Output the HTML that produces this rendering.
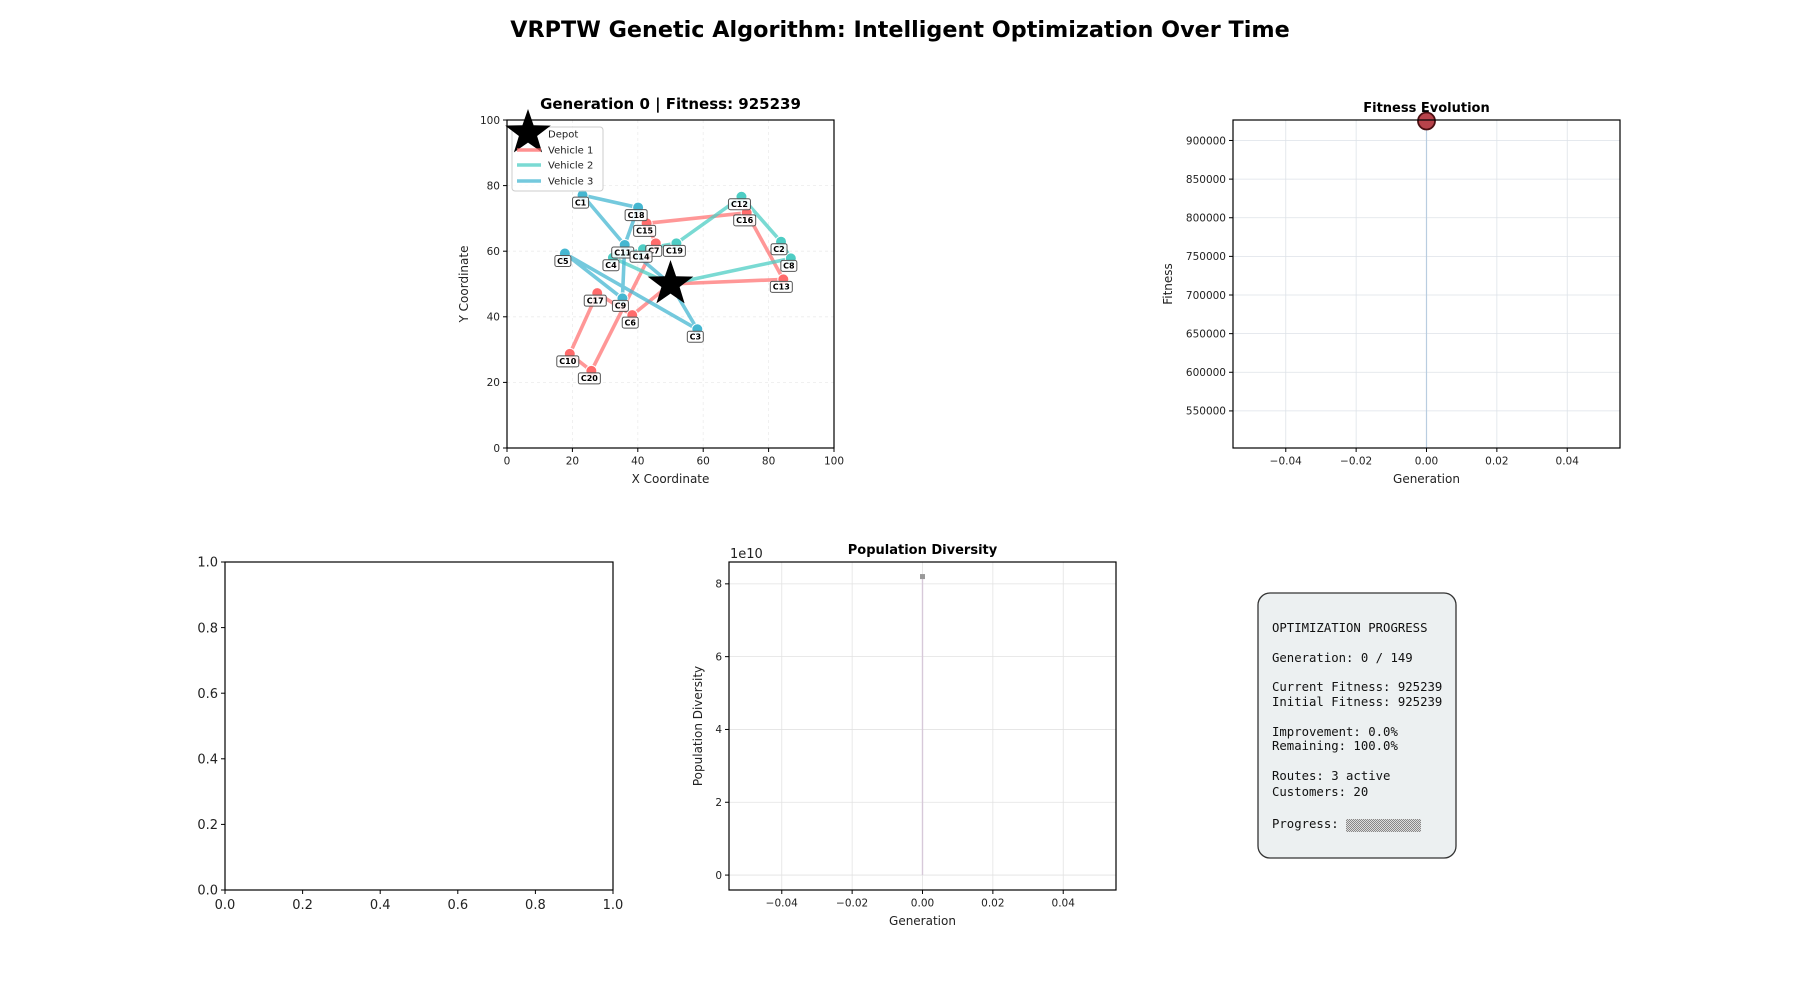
<!DOCTYPE html>
<html><head><meta charset="utf-8">
<style>
html,body{margin:0;padding:0;background:#fff;}
svg{display:block;font-family:"DejaVu Sans","Liberation Sans",sans-serif;}
</style></head>
<body>
<svg id="fig" width="1800" height="1000" viewBox="0 0 1800 1000" xmlns="http://www.w3.org/2000/svg">
<text x="900" y="37" text-anchor="middle" font-size="22.3" font-weight="bold">VRPTW Genetic Algorithm: Intelligent Optimization Over Time</text>
<g id="routeMap"></g>
<g id="fitness"></g>
<g id="empty"></g>
<g id="diversity"></g>
<g>
<rect x="1258" y="593" width="198" height="265" rx="12" fill="#ecf0f1" stroke="#333" stroke-width="1.3"/>
<g font-family="'DejaVu Sans Mono','Liberation Mono',monospace" font-size="12.3" fill="#111">
<text x="1272" y="632">OPTIMIZATION PROGRESS</text>
<text x="1272" y="662">Generation: 0 / 149</text>
<text x="1272" y="691">Current Fitness: 925239</text>
<text x="1272" y="706">Initial Fitness: 925239</text>
<text x="1272" y="736">Improvement: 0.0%</text>
<text x="1272" y="750">Remaining: 100.0%</text>
<text x="1272" y="780">Routes: 3 active</text>
<text x="1272" y="796">Customers: 20</text>
<text x="1272" y="828">Progress: </text>
</g>
<defs><pattern id="dots" width="2" height="2" patternUnits="userSpaceOnUse"><rect width="2" height="2" fill="#ddd"/><rect width="1" height="1" fill="#888"/><rect x="1" y="1" width="1" height="1" fill="#888"/></pattern></defs>
<rect x="1346" y="819" width="75" height="13" fill="url(#dots)"/>
</g>
</svg>
<script>
// ---------- Route map data ----------
const customerNames = ["C1","C2","C3","C4","C5","C6","C7","C8","C9","C10","C11","C12","C13","C14","C15","C16","C17","C18","C19","C20"];
const customerX = [23.1,83.8,58.2,32.4,17.7,38.3,45.5,86.8,35.3,19.2,36.0,71.7,84.5,41.6,42.7,73.3,27.6,40.1,51.8,25.8];
const customerY = [77.1,62.9,36.2,58.0,59.3,40.5,62.4,57.8,45.6,28.7,61.9,76.6,51.4,60.6,68.5,71.7,47.2,73.3,62.4,23.5];
const customerVehicle = [3,2,3,2,3,1,1,2,3,1,3,2,1,2,1,1,1,3,2,1];
const depotXY = [50,50];
const route1 = ["D","C13","C16","C15","C7","C20","C10","C17","C6","D"];
const route2 = ["D","C8","C2","C12","C19","C14","C4","D"];
const route3 = ["D","C3","C5","C9","C11","C1","C18","C11","D"];
const vehicleColors = ["#FF6B6B","#4ECDC4","#45B7D1"];
const mapTicks = [0,20,40,60,80,100];
// ---------- Fitness data ----------
const fitGen = [0];
const fitVal = [925239];
const fitTicks = [550000,600000,650000,700000,750000,800000,850000,900000];
const genTicks = [-0.04,-0.02,0.00,0.02,0.04];
const genTickLabels = ["\u22120.04","\u22120.02","0.00","0.02","0.04"];
// ---------- Diversity data ----------
const divGen = [0];
const divVal = [8.2]; // x1e10
const divTicks = [0,2,4,6,8];
// ---------- Empty axes ----------
const unitTicks = [0,0.2,0.4,0.6,0.8,1.0];
const unitTickLabels = ["0.0","0.2","0.4","0.6","0.8","1.0"];

const NS="http://www.w3.org/2000/svg";
function mk(parent,tag,attrs,text){const e=document.createElementNS(NS,tag);for(const k in attrs)e.setAttribute(k,attrs[k]);if(text!==undefined)e.textContent=text;parent.appendChild(e);return e;}
function lin(d0,d1,r0,r1){return v=>r0+(v-d0)/(d1-d0)*(r1-r0);}

function axesFrame(g,L,T,R,B,xs,ys,xt,xl,yt,yl,fs,grid,gridDash,gridColor){
  if(grid){
    xt.forEach(v=>{const l=mk(g,"line",{x1:xs(v),x2:xs(v),y1:T,y2:B,stroke:gridColor,"stroke-width":0.8,"stroke-dasharray":gridDash||"none"});
      
      });
    yt.forEach(v=>{const l=mk(g,"line",{x1:L,x2:R,y1:ys(v),y2:ys(v),stroke:gridColor,"stroke-width":0.8,"stroke-dasharray":gridDash||"none"});
      
      });
  }
  xt.forEach((v,i)=>{const x=xs(v);mk(g,"line",{x1:x,x2:x,y1:B,y2:B+4,stroke:"#000","stroke-width":1});
    const t=mk(g,"text",{x:x,y:B+6+fs,"text-anchor":"middle","font-size":fs,fill:"#222"},xl[i]);
    
    });
  yt.forEach((v,i)=>{const y=ys(v);mk(g,"line",{x1:L-4,x2:L,y1:y,y2:y,stroke:"#000","stroke-width":1});
    const t=mk(g,"text",{x:L-7,y:y+fs*0.36,"text-anchor":"end","font-size":fs,fill:"#222"},yl[i]);
    
    });
}
function frame(g,L,T,R,B){const r=mk(g,"rect",{x:L,y:T,width:R-L,height:B-T,fill:"none",stroke:"#000","stroke-width":1.2});
  
  }
function starPts(cx,cy,R){const r=R*0.4;let p=[];for(let i=0;i<10;i++){const a=-Math.PI/2+i*Math.PI/5;const rr=i%2?r:R;p.push((cx+rr*Math.cos(a)).toFixed(1)+","+(cy+rr*Math.sin(a)).toFixed(1));}return p.join(" ");}

// ===== Route map =====
(function(){
  const g=document.getElementById("routeMap");
  const L=507,R=834,T=120,B=448;
  const xs=lin(0,100,L,R), ys=lin(0,100,B,T);
  mk(g,"rect",{x:L,y:T,width:R-L,height:B-T,fill:"#fff"});
  axesFrame(g,L,T,R,B,xs,ys,mapTicks,mapTicks.map(String),mapTicks,mapTicks.map(String),10.5,true,"3,3","#ececec");
  const pos=n=>{if(n==="D")return [xs(depotXY[0]),ys(depotXY[1])];const i=customerNames.indexOf(n);return [xs(customerX[i]),ys(customerY[i])];};
  [route1,route2,route3].forEach((rt,k)=>{
    const pts=rt.map(n=>pos(n).map(v=>v.toFixed(1)).join(",")).join(" ");
    const pl=mk(g,"polyline",{points:pts,fill:"none",stroke:vehicleColors[k],"stroke-width":3.6,"stroke-opacity":k===0?0.7:0.75,"stroke-linejoin":"round"});
    
    
  });
  customerNames.forEach((n,i)=>{
    const x=xs(customerX[i]),y=ys(customerY[i]);
    const c=mk(g,"circle",{cx:x,cy:y,r:5.5,fill:vehicleColors[customerVehicle[i]-1],stroke:"#fff","stroke-width":1});
    
    
  });
  customerNames.forEach((n,i)=>{
    const x=xs(customerX[i])-2,y=ys(customerY[i])+7;
    const w=n.length*6+4;
    const r=mk(g,"rect",{x:x-w/2,y:y-5,width:w,height:11,rx:2,fill:"#fff","fill-opacity":0.85,stroke:"#555","stroke-width":1});
    
    
    const t=mk(g,"text",{x:x,y:y+3.3,"text-anchor":"middle","font-size":8,"font-weight":"bold",fill:"#000"},n);
    
    
  });
  const dx=xs(depotXY[0]),dy=ys(depotXY[1]);
  const st=mk(g,"polygon",{points:starPts(dx,dy,24),fill:"#000"});
  
  
  frame(g,L,T,R,B);
  const lg=mk(g,"g",{});
  
  
  mk(lg,"rect",{x:512,y:127,width:91,height:64,rx:3,fill:"#fff","fill-opacity":0.8,stroke:"#ccc","stroke-width":1});
  const ls=mk(lg,"polygon",{points:starPts(528,133,24),fill:"#000"});
  
  
  const labels=["Depot","Vehicle 1","Vehicle 2","Vehicle 3"], ly=[134,150,165,181];
  labels.forEach((s,i)=>{
    if(i>0){const l=mk(lg,"line",{x1:517,x2:541,y1:ly[i],y2:ly[i],stroke:vehicleColors[i-1],"stroke-width":3.6,"stroke-opacity":0.75});
      
      }
    const t=mk(lg,"text",{x:548,y:ly[i]+3.5,"font-size":10,fill:"#222"},s);
    
    
  });
  const tt=mk(g,"text",{x:(L+R)/2,y:109,"text-anchor":"middle","font-size":15,"font-weight":"bold"},"Generation 0 | Fitness: 925239");
  
  
  const xl=mk(g,"text",{x:(L+R)/2,y:483,"text-anchor":"middle","font-size":12,fill:"#222"},"X Coordinate");
  
  
  const yl=mk(g,"text",{x:0,y:0,"text-anchor":"middle","font-size":12,fill:"#222",transform:`translate(468,${(T+B)/2}) rotate(-90)`},"Y Coordinate");
  
  
})();

// ===== Fitness evolution =====
(function(){
  const g=document.getElementById("fitness");
  const L=1233,R=1620,T=120,B=448;
  const xs=lin(-0.055,0.055,L,R), ys=lin(502000,926500,B,T);
  axesFrame(g,L,T,R,B,xs,ys,genTicks,genTickLabels,fitTicks,fitTicks.map(String),10.5,true,null,"#dde2e8");
  fitGen.forEach((gv,i)=>{
    const l=mk(g,"line",{x1:xs(gv),x2:xs(gv),y1:ys(fitVal[i]),y2:B,stroke:"#b9cde0","stroke-width":1.2});
    
    
    const c=mk(g,"circle",{cx:xs(gv),cy:ys(fitVal[i]),r:8.5,fill:"#b8434b",stroke:"#4a0f12","stroke-width":1.8});
    
    
  });
  frame(g,L,T,R,B);
  const t=mk(g,"text",{x:(L+R)/2,y:112,"text-anchor":"middle","font-size":13,"font-weight":"bold"},"Fitness Evolution");
  
  
  const xl=mk(g,"text",{x:(L+R)/2,y:483,"text-anchor":"middle","font-size":12,fill:"#222"},"Generation");
  
  
  const yl=mk(g,"text",{x:0,y:0,"text-anchor":"middle","font-size":12,fill:"#222",transform:`translate(1172,${(T+B)/2}) rotate(-90)`},"Fitness");
  
  
})();

// ===== Empty axes =====
(function(){
  const g=document.getElementById("empty");
  const L=225,R=613,T=562,B=890;
  const xs=lin(0,1,L,R), ys=lin(0,1,B,T);
  axesFrame(g,L,T,R,B,xs,ys,unitTicks,unitTickLabels,unitTicks,unitTickLabels,13,false);
  frame(g,L,T,R,B);
})();

// ===== Population diversity =====
(function(){
  const g=document.getElementById("diversity");
  const L=729,R=1116,T=562,B=890;
  const xs=lin(-0.055,0.055,L,R), ys=lin(-0.41,8.6,B,T);
  axesFrame(g,L,T,R,B,xs,ys,genTicks,genTickLabels,divTicks,divTicks.map(String),10.5,true,null,"#e2e2e2");
  divGen.forEach((gv,i)=>{
    const l=mk(g,"line",{x1:xs(gv),x2:xs(gv),y1:ys(divVal[i]),y2:ys(0),stroke:"#d7c9d9","stroke-width":1.4});
    
    
    const m=mk(g,"rect",{x:xs(gv)-2.5,y:ys(divVal[i])-2.5,width:5,height:5,fill:"#999"});
    
    
  });
  frame(g,L,T,R,B);
  const o=mk(g,"text",{x:730,y:558,"font-size":13,fill:"#222"},"1e10");
  
  
  const t=mk(g,"text",{x:(L+R)/2,y:554,"text-anchor":"middle","font-size":13,"font-weight":"bold"},"Population Diversity");
  
  
  const xl=mk(g,"text",{x:(L+R)/2,y:925,"text-anchor":"middle","font-size":12,fill:"#222"},"Generation");
  
  
  const yl=mk(g,"text",{x:0,y:0,"text-anchor":"middle","font-size":12,fill:"#222",transform:`translate(702,${(T+B)/2}) rotate(-90)`},"Population Diversity");
  
  
})();
</script>
</body></html>
